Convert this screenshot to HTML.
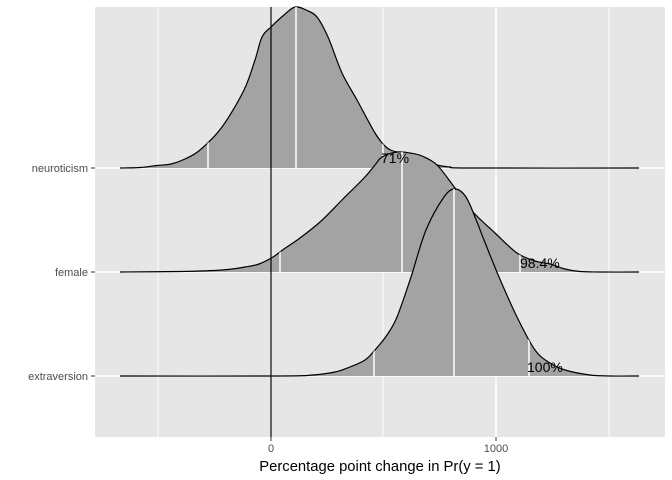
<!DOCTYPE html>
<html><head><meta charset="utf-8"><style>body{margin:0;background:#fff}svg{display:block;font-family:"Liberation Sans",sans-serif}</style></head><body>
<svg id="s" width="672" height="480" viewBox="0 0 672 480">
<defs>
<clipPath id="cn"><path id="pcn"/></clipPath>
<clipPath id="cf"><path id="pcf"/></clipPath>
<clipPath id="ce"><path id="pce"/></clipPath>
</defs>
<rect x="95" y="7" width="570" height="430" fill="#e6e6e6"/>
<g stroke="#fff" stroke-width="1">
<line x1="158" y1="7" x2="158" y2="437"/><line x1="383" y1="7" x2="383" y2="437"/><line x1="609" y1="7" x2="609" y2="437"/>
</g>
<g stroke="#fff" stroke-width="1.6">
<line x1="271" y1="7" x2="271" y2="437"/><line x1="496" y1="7" x2="496" y2="437"/>
<line x1="95" y1="168" x2="665" y2="168"/><line x1="95" y1="272" x2="665" y2="272"/><line x1="95" y1="376" x2="665" y2="376"/>
</g>
<g stroke="#000" stroke-width="1.2" fill="#a3a3a3" stroke-linejoin="round">
<path id="dn"/>
<g clip-path="url(#cn)" stroke="#fff" stroke-width="1.5"><line x1="208" y1="0" x2="208" y2="168"/><line x1="296" y1="0" x2="296" y2="168"/><line x1="383" y1="0" x2="383" y2="168"/></g>
<path id="df"/>
<g clip-path="url(#cf)" stroke="#fff" stroke-width="1.5"><line x1="280" y1="100" x2="280" y2="272"/><line x1="402" y1="100" x2="402" y2="272"/><line x1="520" y1="100" x2="520" y2="272"/></g>
<path id="de"/>
<g clip-path="url(#ce)" stroke="#fff" stroke-width="1.5"><line x1="374" y1="150" x2="374" y2="376"/><line x1="454" y1="150" x2="454" y2="376"/><line x1="529" y1="150" x2="529" y2="376"/></g>
</g>
<g font-size="14" fill="#000">
<text x="381" y="163">71%</text>
<text x="520" y="268">98.4%</text>
<text x="527" y="372">100%</text>
</g>
<line x1="271" y1="7" x2="271" y2="437" stroke="#000" stroke-width="1.2"/>
<g stroke="#333" stroke-width="1"><line x1="91" y1="168" x2="95" y2="168"/><line x1="91" y1="272" x2="95" y2="272"/><line x1="91" y1="376" x2="95" y2="376"/><line x1="271" y1="437" x2="271" y2="441"/><line x1="496" y1="437" x2="496" y2="441"/></g>
<g font-size="11" fill="#4d4d4d" text-anchor="end"><text x="88" y="172">neuroticism</text><text x="88" y="276">female</text><text x="88" y="380">extraversion</text></g>
<g font-size="11" fill="#4d4d4d" text-anchor="middle"><text x="271" y="452">0</text><text x="496" y="452">1000</text></g>
<text x="380" y="471" font-size="14.8" text-anchor="middle" fill="#000">Percentage point change in Pr(y = 1)</text>
</svg>
<script>
function cr(p){var d="M"+p[0][0]+","+p[0][1];for(var i=0;i<p.length-1;i++){var a=p[i-1]||p[i],b=p[i],c=p[i+1],e=p[i+2]||c;
d+=" C"+(b[0]+(c[0]-a[0])/6).toFixed(1)+","+(b[1]+(c[1]-a[1])/6).toFixed(1)+" "+(c[0]-(e[0]-b[0])/6).toFixed(1)+","+(c[1]-(e[1]-b[1])/6).toFixed(1)+" "+c[0]+","+c[1];}return d;}
var N=[[120,168],[140,167.5],[157,165.5],[171,164],[185,159],[200,150],[222,127],[244,90],[255,60],[262,37],[271,27],[284,15],[295,7],[306,10],[317,17],[328,37],[342,73],[357,100],[375,133],[386,147],[397,152],[416,155],[428,159],[437,165],[450,167],[470,168],[639,168]];
var F=[[120,272],[180,271.5],[222,270],[245,267],[259,264],[273,257],[284,249],[300,238],[320,222],[342,200],[364,178],[375,165],[382,157],[397,152],[410,153],[422,156],[437,165],[455,188],[473,212],[495,233],[517,253],[535,261],[550,264],[565,269],[580,271.5],[600,272],[639,272]];
var E=[[120,376],[280,376],[313,375],[335,372],[350,367],[365,360],[375,350],[387,335],[397,317],[411,277],[426,230],[444,197],[455,189],[466,197],[477,222],[484,240],[499,277],[517,317],[535,350],[550,363],[565,370],[590,375],[610,376],[639,376]];
[["n",N],["f",F],["e",E]].forEach(function(q){var d=cr(q[1]);document.getElementById("d"+q[0]).setAttribute("d",d);document.getElementById("pc"+q[0]).setAttribute("d",d+" Z");});
</script>
</body></html>
